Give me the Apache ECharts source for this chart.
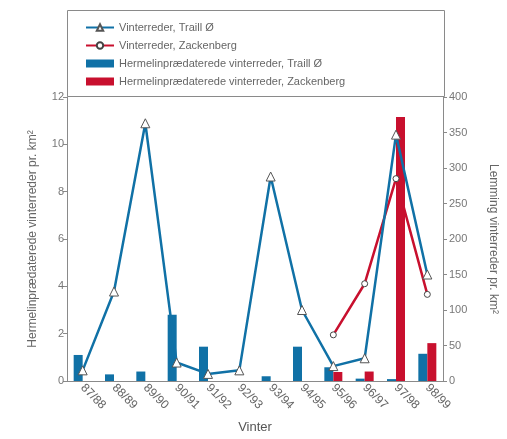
<!DOCTYPE html>
<html>
<head>
<meta charset="utf-8">
<style>
    html, body { margin: 0; padding: 0; background: #fff; }
    #chart { width: 507px; height: 439px; }
</style>
</head>
<body>
<div id="chart"></div>
<script src="https://cdn.jsdelivr.net/npm/echarts@6/dist/echarts.min.js"></script>
<script>
    // winters
    var winters = ['87/88', '88/89', '89/90', '90/91', '91/92', '92/93', '93/94', '94/95', '95/96', '96/97', '97/98', '98/99'];
    // lemming winter nests per km2 (right axis)
    var nestsTrail = [15, 126, 363, 26, 10, 15, 288, 100, 21, 32, 347, 150];
    var nestsZack = ['-', '-', '-', '-', '-', '-', '-', '-', 65, 137, 285, 122];
    // ermine predated winter nests per km2 (left axis)
    var ermineTrail = [1.1, 0.28, 0.4, 2.8, 1.45, 0, 0.2, 1.45, 0.58, 0.1, 0.08, 1.15];
    var ermineZack = ['-', '-', '-', '-', '-', '-', '-', '-', 0.38, 0.4, 11.15, 1.6];

    var blue = '#1071a6';
    var red = '#c8102e';
    var grey = '#8a8a8a';
    var font = '"Liberation Sans", Arial, sans-serif';

    var myChart = echarts.init(document.getElementById('chart'));
    var option = {
        animation: false,
        textStyle: { fontFamily: font },
        graphic: [
            {
                type: 'rect',
                shape: { x: 67.5, y: 10.5, width: 377, height: 86 },
                style: { fill: 'none', stroke: grey, lineWidth: 1 },
                silent: true
            }
        ],
        legend: {
            orient: 'vertical',
            left: 85,
            top: 22,
            padding: 0,
            itemGap: 7,
            itemWidth: 28,
            itemHeight: 8,
            textStyle: { color: '#666', fontSize: 11, fontFamily: font },
            data: [
                { name: 'Vinterreder, Traill Ø' },
                { name: 'Vinterreder, Zackenberg' },
                { name: 'Hermelinprædaterede vinterreder, Traill Ø', icon: 'rect' },
                { name: 'Hermelinprædaterede vinterreder, Zackenberg', icon: 'rect' }
            ]
        },
        grid: {
            left: 67,
            right: 62,
            top: 97,
            bottom: 54
        },
        xAxis: {
            type: 'category',
            data: winters,
            name: 'Vinter',
            nameLocation: 'middle',
            nameGap: 40,
            nameTextStyle: { color: '#555', fontSize: 13 },
            axisLine: { lineStyle: { color: grey } },
            axisTick: { length: 5, lineStyle: { color: grey } },
            axisLabel: { rotate: -45, margin: 5, color: '#666', fontSize: 12 }
        },
        yAxis: [
            {
                type: 'value',
                min: 0,
                max: 12,
                interval: 2,
                name: 'Hermelinprædaterede vinterreder pr. km²',
                nameLocation: 'middle',
                nameGap: 28,
                nameTextStyle: { color: '#666', fontSize: 12 },
                axisLine: { show: true, lineStyle: { color: grey } },
                axisTick: { show: true, length: 4, lineStyle: { color: grey } },
                axisLabel: { margin: 3, color: '#777', fontSize: 11 },
                splitLine: { show: false }
            },
            {
                type: 'value',
                min: 0,
                max: 400,
                interval: 50,
                name: 'Lemming vinterreder pr. km²',
                nameLocation: 'middle',
                nameRotate: -90,
                nameGap: 44,
                nameTextStyle: { color: '#666', fontSize: 12 },
                axisLine: { show: true, lineStyle: { color: grey } },
                axisTick: { show: true, length: 4, lineStyle: { color: grey } },
                axisLabel: { margin: 6, color: '#777', fontSize: 11 },
                splitLine: { show: false }
            }
        ],
        series: [
            {
                name: 'Vinterreder, Traill Ø',
                type: 'line',
                yAxisIndex: 1,
                z: 5,
                data: nestsTrail,
                symbol: 'triangle',
                symbolSize: 9,
                lineStyle: { color: blue, width: 2.5 },
                itemStyle: { color: '#fff', borderColor: '#555', borderWidth: 1 }
            },
            {
                name: 'Vinterreder, Zackenberg',
                type: 'line',
                yAxisIndex: 1,
                z: 4,
                data: nestsZack,
                symbol: 'circle',
                symbolSize: 6,
                lineStyle: { color: red, width: 2.5 },
                itemStyle: { color: '#fff', borderColor: '#444', borderWidth: 1 }
            },
            {
                name: 'Hermelinprædaterede vinterreder, Traill Ø',
                type: 'bar',
                yAxisIndex: 0,
                data: ermineTrail,
                barWidth: 9,
                barGap: '0%',
                itemStyle: { color: blue }
            },
            {
                name: 'Hermelinprædaterede vinterreder, Zackenberg',
                type: 'bar',
                yAxisIndex: 0,
                data: ermineZack,
                barWidth: 9,
                barGap: '0%',
                itemStyle: { color: red }
            }
        ]
    };

    myChart.setOption(option);
    window.onresize = function () {
        myChart.resize();
    };
</script>
</body>
</html>
